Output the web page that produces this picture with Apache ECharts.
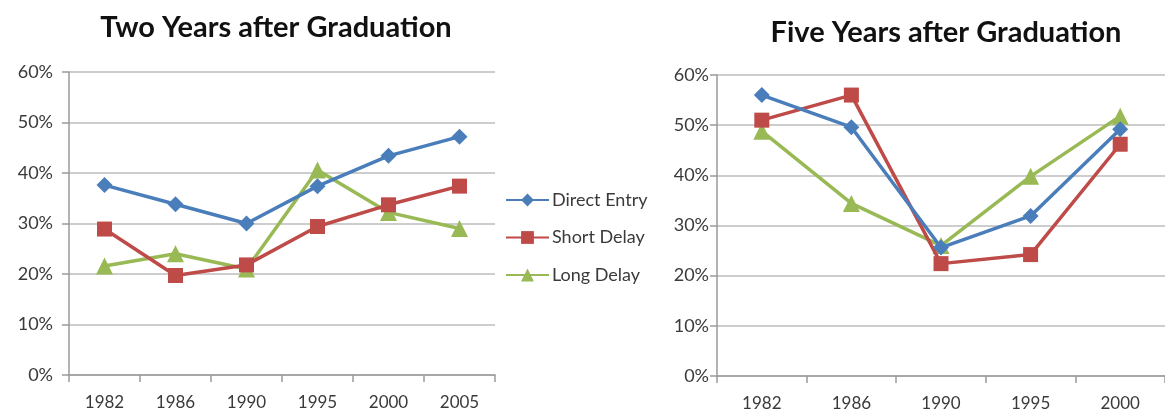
<!DOCTYPE html>
<html>
<head>
<meta charset="utf-8">
<script src="https://cdn.jsdelivr.net/npm/echarts@6/dist/echarts.min.js"></script>
<style>
  html, body { margin: 0; padding: 0; background: #fff; }
  #chart { width: 1165px; height: 414px; }
</style>
</head>
<body>
<div id="chart"></div>
<script>
// Share of graduates, two years after graduation (percent)
const yearsTwo = ['1982', '1986', '1990', '1995', '2000', '2005'];
const directTwo = [37.6, 33.8, 30.0, 37.4, 43.4, 47.2];
const shortTwo  = [28.9, 19.7, 21.8, 29.4, 33.7, 37.4];
const longTwo   = [21.6, 24.0, 21.0, 40.6, 32.2, 29.0];

// Share of graduates, five years after graduation (percent)
const yearsFive = ['1982', '1986', '1990', '1995', '2000'];
const directFive = [56.0, 49.6, 25.6, 31.9, 49.2];
const shortFive  = [51.0, 56.0, 22.4, 24.2, 46.2];
const longFive   = [48.8, 34.4, 26.0, 39.8, 51.8];

const seriesNames = ['Direct Entry', 'Short Delay', 'Long Delay'];
const yTicks = [0, 10, 20, 30, 40, 50, 60];

const FONT = 'Lato, "Open Sans", sans-serif';
const COLORS = ['#4A7EBB', '#BE4B48', '#98B954'];
const SYMBOLS = ['diamond', 'rect', 'triangle'];
const SYMBOL_SIZES = [16, 15, 17];

const chart = echarts.init(document.getElementById('chart'), null, { renderer: 'canvas' });

function xAxisFor(gridIndex, cats) {
  return {
    type: 'category', gridIndex, data: cats, boundaryGap: true,
    axisLine: { lineStyle: { color: '#9A9A9A', width: 1.5 } },
    axisTick: { show: true, length: 7, lineStyle: { color: '#9A9A9A', width: 1.5 } },
    axisLabel: { color: '#3A3A3A', fontSize: 17, fontFamily: FONT, margin: 19 },
    splitLine: { show: false }
  };
}

function yAxisFor(gridIndex, labelMargin) {
  return {
    type: 'value', gridIndex,
    min: yTicks[0], max: yTicks[yTicks.length - 1], interval: yTicks[1] - yTicks[0],
    axisLine: { show: true, lineStyle: { color: '#9A9A9A', width: 1.5 } },
    axisTick: { show: true, length: 7, lineStyle: { color: '#9A9A9A', width: 1.5 } },
    axisLabel: { color: '#3A3A3A', fontSize: 18, fontFamily: FONT, margin: labelMargin,
                 formatter: '{value}%' },
    splitLine: { show: true, lineStyle: { color: '#BDBDBD', width: 1.5 } }
  };
}

function lineSeries(i, axisIndex, values) {
  return {
    name: seriesNames[i], type: 'line', data: values,
    xAxisIndex: axisIndex, yAxisIndex: axisIndex,
    symbol: SYMBOLS[i], symbolSize: SYMBOL_SIZES[i], showAllSymbol: true,
    lineStyle: { color: COLORS[i], width: 3.5 },
    itemStyle: { color: COLORS[i], borderWidth: 0 },
    emphasis: { disabled: true },
    animation: false, z: 10 - i
  };
}

chart.setOption({
  animation: false,
  backgroundColor: '#ffffff',
  title: [
    { text: 'Two Years after Graduation', left: 271, top: 23, textAlign: 'center', textVerticalAlign: 'middle',
      textStyle: { fontFamily: FONT, fontWeight: 'bold', fontSize: 29, color: '#111' } },
    { text: 'Five Years after Graduation', left: 941, top: 28, textAlign: 'center', textVerticalAlign: 'middle',
      textStyle: { fontFamily: FONT, fontWeight: 'bold', fontSize: 29, color: '#111' } }
  ],
  legend: {
    orient: 'vertical', left: 505, top: 191, padding: 0,
    itemWidth: 43, itemHeight: 16, itemGap: 19.5,
    data: seriesNames,
    textStyle: { fontFamily: FONT, fontSize: 18, lineHeight: 18, color: '#3A3A3A', padding: [0, 0, 0, -2] },
    selectedMode: false
  },
  grid: [
    { left: 69, top: 72, width: 426, height: 303 },
    { left: 717, top: 75, width: 455, height: 301 }
  ],
  xAxis: [xAxisFor(0, yearsTwo), xAxisFor(1, yearsFive)],
  yAxis: [yAxisFor(0, 16), yAxisFor(1, 8)],
  series: [
    lineSeries(0, 0, directTwo),
    lineSeries(1, 0, shortTwo),
    lineSeries(2, 0, longTwo),
    lineSeries(0, 1, directFive),
    lineSeries(1, 1, shortFive),
    lineSeries(2, 1, longFive)
  ]
});
</script>
</body>
</html>
